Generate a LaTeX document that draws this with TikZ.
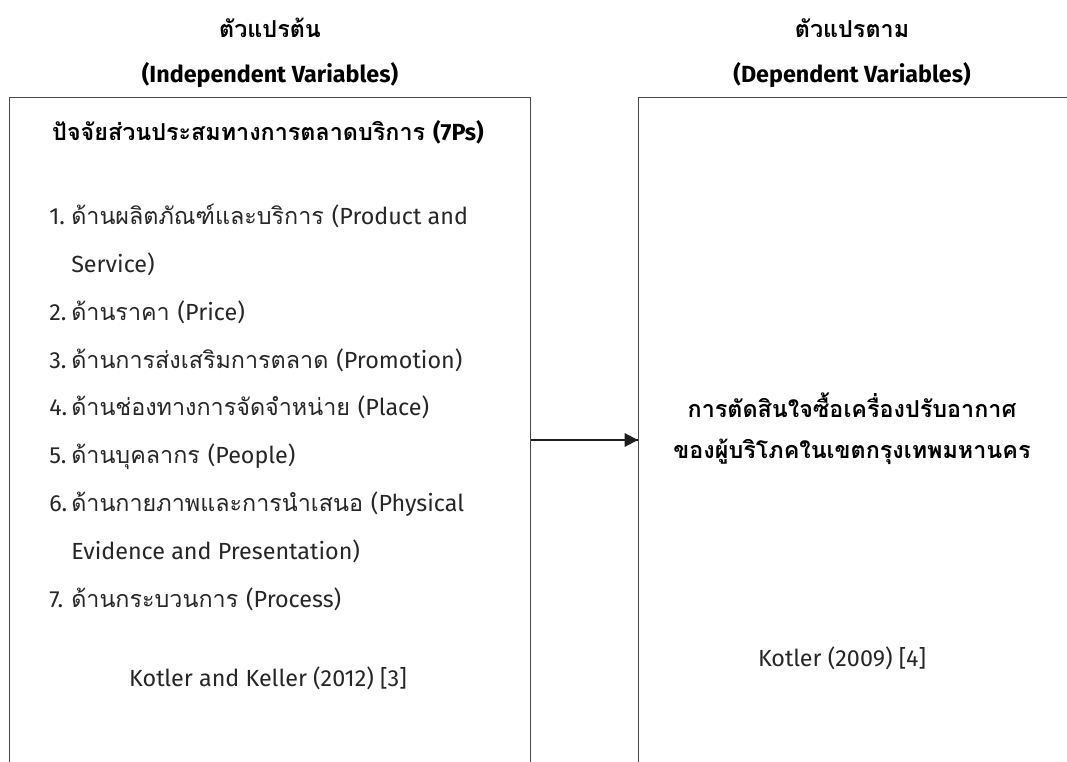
\documentclass[tikz,border=0pt]{standalone}
\usepackage{fontspec}
\newfontfamily\thaifont[Script=Thai]{Loma}
\newfontfamily\enfont{Fira Sans}
\newcommand{\en}[1]{{\enfont #1}}
\usetikzlibrary{arrows.meta,decorations.markings}
\tikzset{flow/.style = {decoration={markings, mark=at position 1 with {\arrow{Triangle[length=10pt, width=10pt]}}}, postaction={decorate}}}
\tikzset{frame/.style = {draw=black!72, line width=1.1pt, anchor=north west}}
\tikzset{head/.style = {font=\thaifont\bfseries\fontsize{17.5}{20}\selectfont}}
\tikzset{txt/.style = {font=\thaifont\fontsize{17.5}{20}\selectfont, text=black!85, inner sep=0pt, anchor=base west}}

\begin{document}
\begin{tikzpicture}[x=0.75pt, y=-0.75pt]
    \useasboundingbox (0,0) rectangle (1067,762);
    % frames, open past the page
    \node (ivbox) [frame, minimum width=521*0.75pt, minimum height=760*0.75pt] at (9,97) {};
    \node (dvbox) [frame, minimum width=500*0.75pt, minimum height=760*0.75pt] at (638,97) {};
    % headings
    \node (ivth) [head] at (270,28) {ตัวแปรต้น};
    \node (iven) [head] at (270,75) {\en{(Independent Variables)}};
    \node (dvth) [head] at (852,28) {ตัวแปรตาม};
    \node (dven) [head] at (852,75) {\en{(Dependent Variables)}};
    % left side
    \node (mix) [head] at (268,132) {ปัจจัยส่วนประสมทางการตลาดบริการ \en{(7Ps)}};
    \foreach \num/\item [count=\k from 0] in {1./ด้านผลิตภัณฑ์และบริการ \en{(Product and},
                               /\en{Service)},
                               2./ด้านราคา \en{(Price)},
                               3./ด้านการส่งเสริมการตลาด \en{(Promotion)},
                               4./ด้านช่องทางการจัดจำหน่าย \en{(Place)},
                               5./ด้านบุคลากร \en{(People)},
                               6./ด้านกายภาพและการนำเสนอ \en{(Physical},
                               /\en{Evidence and Presentation)},
                               7./ด้านกระบวนการ \en{(Process)}}
    {
        \node (n\k) [txt] at (49,225+47.75*\k) {\en{\num}};
        \node (i\k) [txt] at (71,225+47.75*\k) {\item};
    }
    \node (ivref) [txt, anchor=center] at (268,678) {\en{Kotler and Keller (2012) [3]}};
    % right side
    \node (dvtop) [head] at (852,405) {การตัดสินใจซื้อเครื่องปรับอากาศ};
    \node (dvbot) [head] at (852,452) {ของผู้บริโภคในเขตกรุงเทพมหานคร};
    \node (dvref) [txt, anchor=center] at (842,658) {\en{Kotler (2009) [4]}};
    % link
    \coordinate (lvl) at (0,440);
    \draw [flow, line width=1.6pt, black!88] (ivbox.east |- lvl) -- (dvbox.west |- lvl);
\end{tikzpicture}
\end{document}
